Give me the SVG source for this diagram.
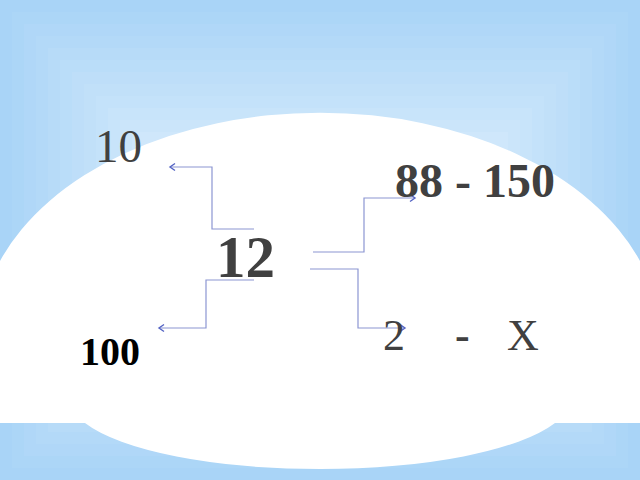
<svg xmlns="http://www.w3.org/2000/svg" width="640" height="480" viewBox="0 0 640 480">
<defs>
<style>
.t{font-family:"Liberation Serif","Times New Roman",serif;fill:#404040}
.b{font-weight:bold}
.ln{fill:none;stroke:#8c96d2;stroke-width:1.2}
</style>
<marker id="arr" markerUnits="userSpaceOnUse" markerWidth="10" markerHeight="10" refX="8" refY="5" orient="auto">
<path d="M3,1.5 L8,5 L3,8.5" fill="none" stroke="#5464c4" stroke-width="1.4"/>
</marker>
</defs>
<g id="background">
<rect x="0" y="0" width="640" height="480" fill="#a9d4f7"/>
<rect x="12" y="12" width="616" height="456" fill="#acd6f7"/>
<rect x="24" y="24" width="592" height="432" fill="#b0d7f8"/>
<rect x="36" y="36" width="568" height="408" fill="#b3d9f8"/>
<rect x="48" y="48" width="544" height="384" fill="#b7dbf8"/>
<rect x="60" y="60" width="520" height="360" fill="#baddf9"/>
<rect x="72" y="72" width="496" height="336" fill="#bedef9"/>
<rect x="84" y="84" width="472" height="312" fill="#c1e0f9"/>
<rect x="96" y="96" width="448" height="288" fill="#c4e2fa"/>
<rect x="108" y="108" width="424" height="264" fill="#c8e4fa"/>
<rect x="120" y="120" width="400" height="240" fill="#cbe5fa"/>
<rect x="132" y="132" width="376" height="216" fill="#cfe7fb"/>
<rect x="144" y="144" width="352" height="192" fill="#d2e9fb"/>
<rect x="156" y="156" width="328" height="168" fill="#d5ebfb"/>
<rect x="168" y="168" width="304" height="144" fill="#d9ecfb"/>
<rect x="180" y="180" width="280" height="120" fill="#dceefc"/>
<rect x="192" y="192" width="256" height="96" fill="#e0f0fc"/>
<rect x="204" y="204" width="232" height="72" fill="#e3f2fc"/>
<rect x="216" y="216" width="208" height="48" fill="#e7f3fd"/>
<rect x="228" y="228" width="184" height="24" fill="#eaf5fd"/>
<path d="M0,261 A340,224 0 0 1 640,261 L640,423 L555,423 A250,70 0 0 1 85,423 L0,423 Z" fill="#ffffff"/>
</g>
<g id="connectors">
<path class="ln" d="M254,229 H212 V167 H170" marker-end="url(#arr)"/>
<path class="ln" d="M254,280 H206 V328 H159" marker-end="url(#arr)"/>
<path class="ln" d="M313,252 H364 V198 H415" marker-end="url(#arr)"/>
<path class="ln" d="M310,269 H358 V328 H405" marker-end="url(#arr)"/>
</g>
<g id="node-12"><text class="t b" x="216" y="277" font-size="59">12</text></g>
<g id="node-10"><text class="t" x="95" y="162" font-size="47">10</text></g>
<g id="node-88-150"><text class="t b" x="395" y="197" font-size="48">88 - 150</text></g>
<g id="node-100"><text class="t b" x="80" y="365" font-size="40" style="fill:#000000">100</text></g>
<g id="node-2-x"><text class="t" y="350" font-size="44"><tspan x="383">2</tspan><tspan> </tspan><tspan class="b" x="455">-</tspan><tspan> </tspan><tspan x="507">X</tspan></text></g>
</svg>
